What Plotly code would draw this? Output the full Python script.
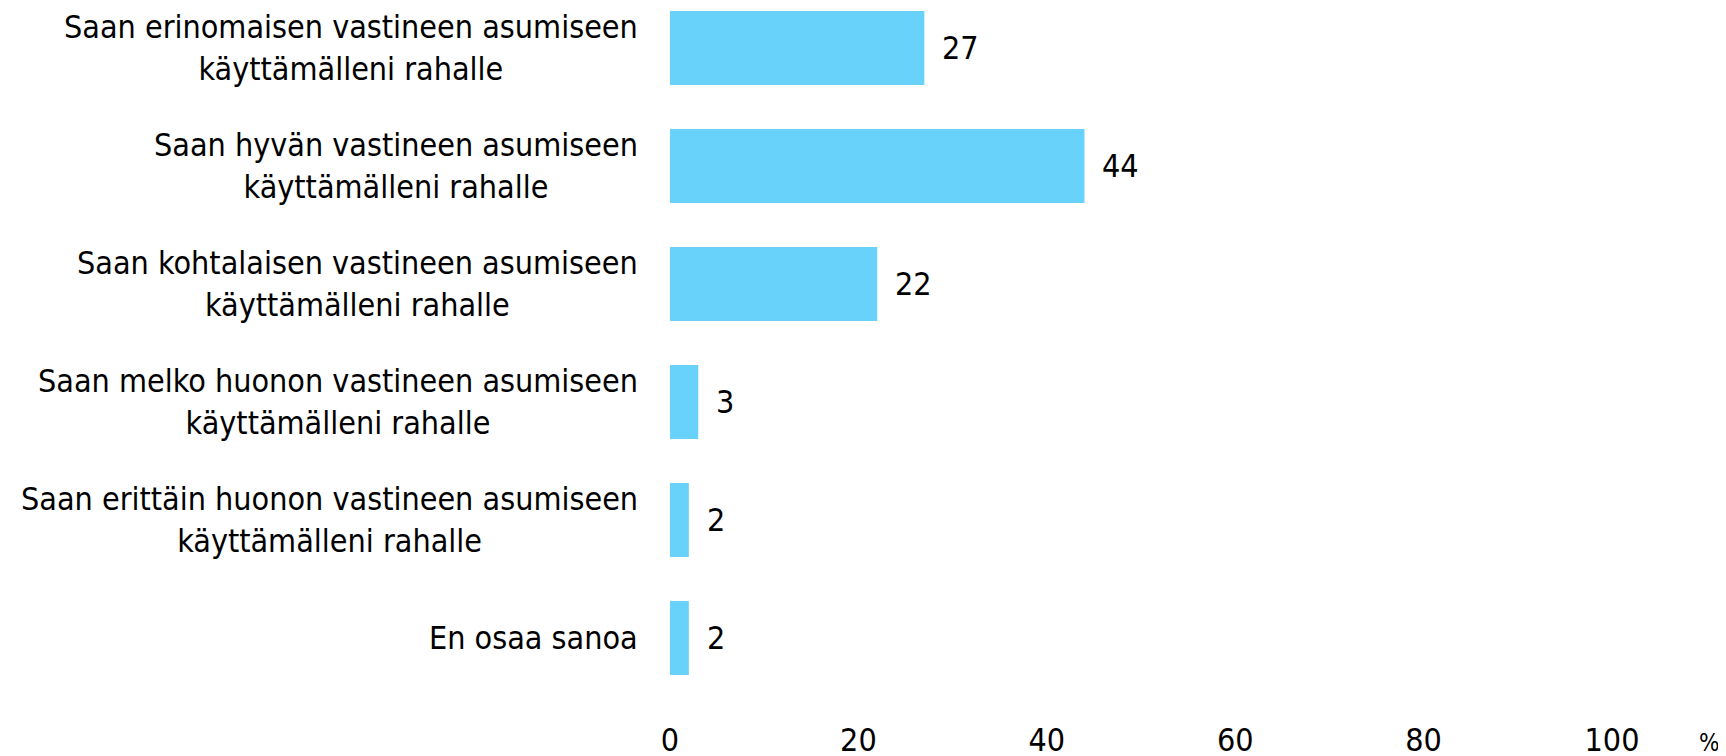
import plotly.graph_objects as go

categories = [
    "Saan erinomaisen vastineen asumiseen<br>käyttämälleni rahalle",
    "Saan hyvän vastineen asumiseen<br>käyttämälleni rahalle",
    "Saan kohtalaisen vastineen asumiseen<br>käyttämälleni rahalle",
    "Saan melko huonon vastineen asumiseen<br>käyttämälleni rahalle",
    "Saan erittäin huonon vastineen asumiseen<br>käyttämälleni rahalle",
    "En osaa sanoa",
]
values = [27, 44, 22, 3, 2, 2]
x_ticks = [0, 20, 40, 60, 80, 100]
unit_label = "%"

FONT = "DejaVu Sans Condensed, Verdana, DejaVu Sans, sans-serif"
FS = 32
BAR_COLOR = "#69D2FA"

fig = go.Figure(
    go.Bar(
        x=values,
        y=list(range(len(categories))),
        orientation="h",
        marker=dict(color=BAR_COLOR, line=dict(width=0)),
        hoverinfo="skip",
    )
)

annotations = []
for i, (cat, v) in enumerate(zip(categories, values)):
    annotations.append(dict(
        x=0, xref="paper", y=i, yref="y", text=cat, showarrow=False,
        xanchor="right", yanchor="middle", align="center", xshift=-30,
        font=dict(family=FONT, size=FS, color="#000000"),
    ))
    annotations.append(dict(
        x=v, xref="x", y=i, yref="y", text=str(v), showarrow=False,
        xanchor="left", yanchor="middle", xshift=16,
        font=dict(family=FONT, size=FS, color="#000000"),
    ))
annotations.append(dict(
    x=1.104, xref="paper", y=0, yref="paper", text=unit_label, showarrow=False,
    xanchor="center", yanchor="top", yshift=-30,
    font=dict(family=FONT, size=24, color="#000000"),
))

fig.update_layout(
    width=1718, height=756,
    margin=dict(l=662, r=114, t=0, b=67, autoexpand=False),
    paper_bgcolor="white", plot_bgcolor="white",
    bargap=0.373,
    showlegend=False,
    font=dict(family=FONT, size=FS, color="#000000"),
    annotations=annotations,
    xaxis=dict(
        range=[0, 100], tickvals=x_ticks, showgrid=False, zeroline=False,
        showline=False, ticks="", ticklabelstandoff=21, automargin=False,
        tickfont=dict(family=FONT, size=FS, color="#000000"),
    ),
    yaxis=dict(
        range=[5.5, -0.339], showticklabels=False, showgrid=False,
        zeroline=False, showline=False, ticks="", automargin=False,
    ),
)

fig.write_html("out.html")
